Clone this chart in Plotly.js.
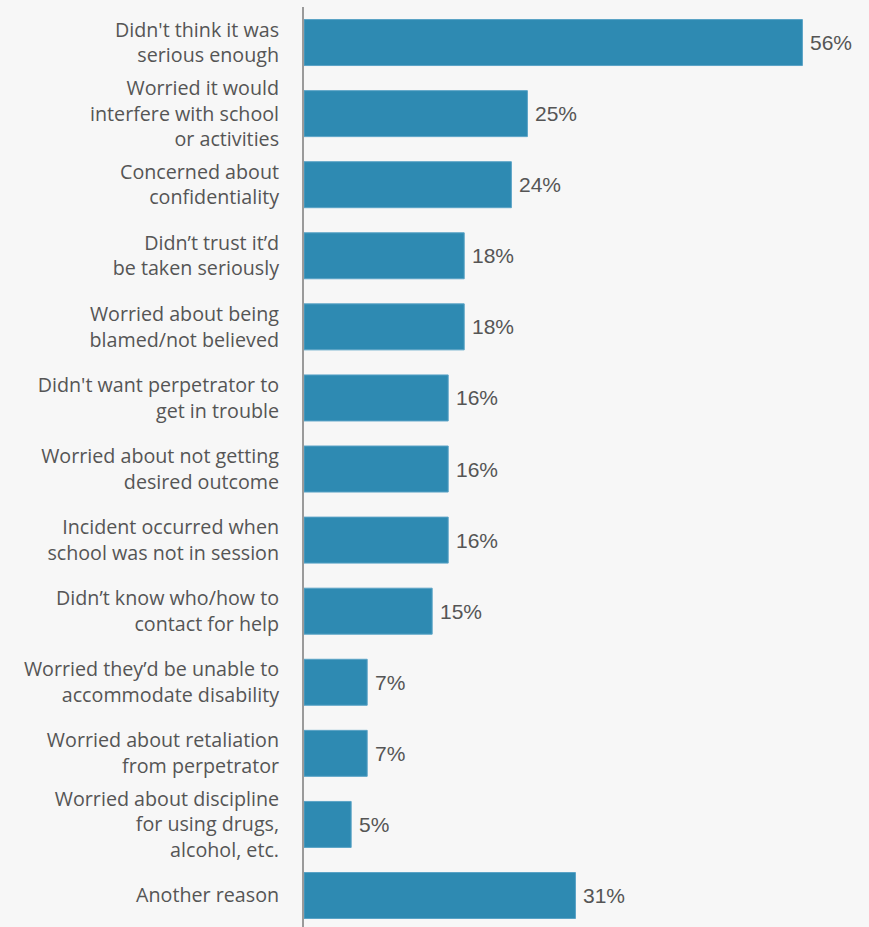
<!DOCTYPE html>
<html>
<head>
<meta charset="utf-8">
<script src="https://cdn.plot.ly/plotly-3.0.1.min.js"></script>
<style>
  html, body { margin: 0; padding: 0; background: #f7f7f7; }
  #chart { width: 869px; height: 927px; }
</style>
</head>
<body>
<div id="chart"></div>
<script>
// Categories (top to bottom)
const categories = [
  "Didn't think it was<br>serious enough",
  "Worried it would<br>interfere with school<br>or activities",
  "Concerned about<br>confidentiality",
  "Didn’t trust it’d<br>be taken seriously",
  "Worried about being<br>blamed/not believed",
  "Didn't want perpetrator to<br>get in trouble",
  "Worried about not getting<br>desired outcome",
  "Incident occurred when<br>school was not in session",
  "Didn’t know who/how to<br>contact for help",
  "Worried they’d be unable to<br>accommodate disability",
  "Worried about retaliation<br>from perpetrator",
  "Worried about discipline<br>for using drugs,<br>alcohol, etc.",
  "Another reason"
];
// Bar lengths (percent)
const values = [56.0, 25.1, 23.3, 18.0, 18.0, 16.2, 16.2, 16.2, 14.4, 7.1, 7.1, 5.3, 30.5];
// Displayed value labels
const valueLabels = ["56%", "25%", "24%", "18%", "18%", "16%", "16%", "16%", "15%", "7%", "7%", "5%", "31%"];

const trace = {
  type: 'bar',
  orientation: 'h',
  x: values,
  y: categories,
  marker: { color: '#2e8ab2', line: { color: '#5aa3c6', width: 1 } },
  hoverinfo: 'none'
};

const annotations = values.map((v, i) => ({
  x: v, y: categories[i], xref: 'x', yref: 'y',
  text: valueLabels[i], showarrow: false,
  xanchor: 'left', yanchor: 'middle', xshift: 6,
  font: { family: 'Liberation Sans, Arial, sans-serif', size: 21, color: '#555555' }
}));

const layout = {
  width: 869, height: 927,
  paper_bgcolor: '#f7f7f7', plot_bgcolor: '#f7f7f7',
  margin: { l: 304, r: 0, t: 7, b: 0 },
  bargap: 0.353,
  showlegend: false,
  xaxis: {
    range: [0, 63.48], visible: false, fixedrange: true
  },
  yaxis: {
    type: 'category',
    range: [12.443, -0.5],
    autorange: false,
    showline: true, linecolor: '#9a9a9a', linewidth: 2,
    showgrid: false, zeroline: false,
    ticks: '', ticklabelstandoff: 19,
    tickfont: { family: 'Open Sans, sans-serif', size: 19.7, color: '#555555' },
    fixedrange: true
  },
  annotations: annotations
};

Plotly.newPlot('chart', [trace], layout, { displayModeBar: false, staticPlot: true });
</script>
</body>
</html>
